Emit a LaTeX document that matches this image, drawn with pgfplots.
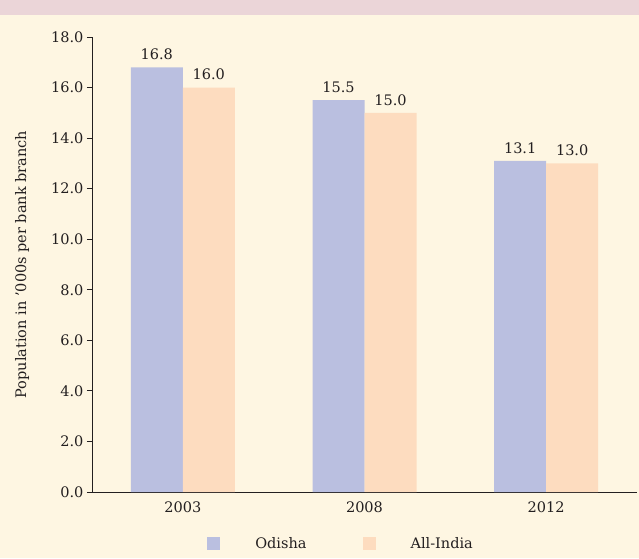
\documentclass[border=0pt]{standalone}
\usepackage{pgfplots}
\pgfplotsset{compat=1.18}
\usepackage{fontspec}
\setmainfont{DejaVu Serif}
\definecolor{bgcream}{HTML}{FEF6E2}
\definecolor{bandpink}{HTML}{EBD5D8}
\definecolor{odisha}{HTML}{BABFE0}
\definecolor{allindia}{HTML}{FDDCBF}
\definecolor{txt}{HTML}{231F20}
\newcommand{\bigf}{\fontsize{14.5}{17}\selectfont}
\begin{document}
\begin{tikzpicture}[x=1pt,y=1pt]
\fill[bgcream] (0,0) rectangle (639,558);
\fill[bandpink] (0,543) rectangle (639,558);
\useasboundingbox (0,0) rectangle (639,558);
\begin{axis}[
  at={(92pt,66pt)}, anchor=south west,
  scale only axis, width=545pt, height=455pt,
  xmin=-0.5, xmax=2.5, ymin=0, ymax=18,
  axis x line*=bottom, axis y line*=left,
  axis line style={txt, line width=0.9pt},
  ybar=0pt, bar width=52pt,
  xtick={0,1,2}, xticklabels={2003,2008,2012},
  extra x ticks={0.5,1.5,2.5}, extra x tick labels={},
  extra x tick style={major tick length=6pt, tick style={txt,line width=0.9pt}, tick align=outside},
  major x tick style={draw=none},
  ytick={0,2,...,18},
  y tick style={txt,line width=0.9pt}, tick align=outside, major tick length=5pt,
  yticklabel style={/pgf/number format/.cd, fixed, fixed zerofill, precision=1},
  /pgf/number format/assume math mode=true,
  ticklabel style={font=\bigf, text=txt},
  xticklabel style={yshift=-1pt},
  ylabel={Population in '000s per bank branch},
  ylabel style={font=\bigf, text=txt, at={(axis description cs:-0.128,0.5)}, anchor=center},
  nodes near coords,
  nodes near coords style={font=\bigf, text=txt, yshift=4pt, /pgf/number format/.cd, fixed, fixed zerofill, precision=1, assume math mode=true},
  legend columns=2,
  legend style={draw=none, fill=none, at={(0.457,-0.114)}, anchor=center,
    font=\bigf, text=txt,
    /tikz/every even column/.append style={column sep=54pt}},
  legend image code/.code={\fill[#1] (0pt,-6.5pt) rectangle (13pt,6.5pt);},
  clip=false,
]
\addplot[draw=none, fill=odisha] coordinates {(0,16.8) (1,15.5) (2,13.1)};
\addplot[draw=none, fill=allindia] coordinates {(0,16.0) (1,15.0) (2,13.0)};
\legend{\hspace{33pt}Odisha,\hspace{33pt}All-India}
\end{axis}
\end{tikzpicture}
\end{document}
